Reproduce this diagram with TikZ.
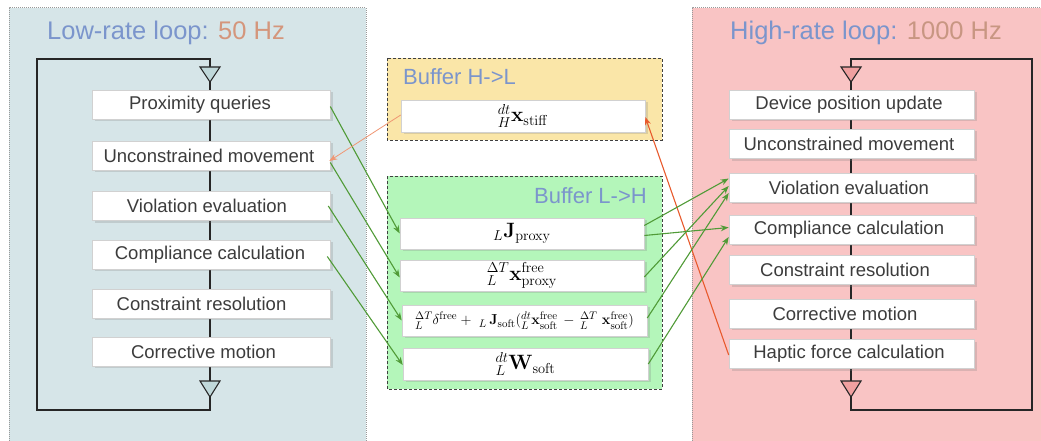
\documentclass[tikz,border=0pt]{standalone}
\usepackage{amsmath}
\usepackage[no-math]{fontspec}
\setmainfont{Liberation Sans}
\usetikzlibrary{shadows,arrows.meta}
\definecolor{lowbg}{RGB}{214,229,232}
\definecolor{highbg}{RGB}{249,196,196}
\definecolor{hlbg}{RGB}{250,230,168}
\definecolor{lhbg}{RGB}{180,246,186}
\definecolor{lowtri}{RGB}{192,216,218}
\definecolor{hightri}{RGB}{240,160,160}
\definecolor{titleblue}{RGB}{123,149,204}
\definecolor{titleorange}{RGB}{212,150,124}
\definecolor{hzbrown}{RGB}{200,150,130}
\definecolor{txtgray}{RGB}{60,60,60}
\definecolor{greenarrow}{RGB}{80,155,55}
\definecolor{orangearrow}{RGB}{232,90,45}
\definecolor{lightorange}{RGB}{240,150,115}
\tikzset{
  panel/.style={draw=gray!80, densely dotted, line width=1pt},
  buffer/.style={draw=black!75, densely dashed, line width=0.7pt},
  stepbox/.style={draw=black!18, fill=white, line width=0.6pt, inner sep=0pt,
    minimum height=29pt, text=txtgray, font=\fontsize{18.5}{22}\selectfont,
    drop shadow={opacity=0.25, shadow xshift=3pt, shadow yshift=-2pt}},
  mathbox/.style={draw=black!18, fill=white, line width=0.6pt, inner sep=0pt,
    minimum width=244pt, minimum height=31pt, font=\fontsize{21}{24}\selectfont,
    drop shadow={opacity=0.25, shadow xshift=3pt, shadow yshift=-2pt}},
  looptitle/.style={anchor=base west, inner sep=0pt, font=\fontsize{25.5}{30}\selectfont},
  buftitle/.style={inner sep=0pt, text=titleblue, font=\fontsize{22}{26}\selectfont},
  loopline/.style={draw=black!85, line width=1.1pt},
  garrow/.style={draw=greenarrow, line width=1.1pt, -{Stealth[length=8pt,width=6pt]}},
  oarrow/.style={draw=orangearrow, line width=1.1pt, -{Stealth[length=8pt,width=6pt]}},
  loarrow/.style={draw=lightorange, line width=0.8pt, -{Stealth[length=8pt,width=6pt]}},
}
\newcommand\padr[2]{#1\hspace*{#2pt}}
\begin{document}
\begin{tikzpicture}[x=1pt,y=-1pt]
\useasboundingbox (0,0) rectangle (1041,441);
\fill[white] (0,0) rectangle (1041,441);
% panels
\fill[lowbg] (9,8) rectangle (366,445);
\draw[panel] (9,445) -- (9,8) -- (366,8) -- (366,445);
\fill[highbg] (692,8) rectangle (1045,445);
\draw[panel] (692,445) -- (692,8) -- (1045,8);
\fill[hlbg] (387,58) rectangle (662,140);
\draw[buffer] (387,58) rectangle (662,140);
\fill[lhbg] (387,176) rectangle (662,389);
\draw[buffer] (387,176) rectangle (662,389);
% titles
\node[looptitle] (lowtitle) at (47,40) {\textcolor{titleblue}{Low-rate loop:} \textcolor{titleorange}{50 Hz}};
\node[looptitle] (hightitle) at (730,40) {\textcolor{titleblue}{High-rate loop:} \textcolor{hzbrown}{1000 Hz}};
\node[buftitle, anchor=base west] (hltitle) at (403,85) {Buffer H->L};
\node[buftitle, anchor=base east] (lhtitle) at (647,203) {Buffer L->H};
% left loop
\coordinate (lA) at (210,59);
\coordinate (lB) at (37,59);
\coordinate (lC) at (37,410);
\coordinate (lD) at (210,410);
\coordinate (ltt) at (210,67);
\coordinate (ltb) at (210,82);
\coordinate (lbt) at (210,381);
\coordinate (lbb) at (210,397);
\draw[loopline] (lbb) -- (lD) -- (lC) -- (lB) -- (lA) -- (ltt);
\draw[loopline] (ltb) -- (210,90);
\draw[loopline] (210,119) -- (210,381);
\draw[loopline, fill=lowtri, line join=miter] (200,67) -- (220,67) -- (ltb) -- cycle;
\draw[loopline, fill=lowtri, line join=miter] (200,381) -- (220,381) -- (lbb) -- cycle;
% right loop
\coordinate (rA) at (851,59);
\coordinate (rB) at (1032,59);
\coordinate (rC) at (1032,410);
\coordinate (rD) at (851,410);
\coordinate (rtt) at (851,67);
\coordinate (rtb) at (851,82);
\coordinate (rbt) at (851,381);
\coordinate (rbb) at (851,397);
\draw[loopline] (rbb) -- (rD) -- (rC) -- (rB) -- (rA) -- (rtt);
\draw[loopline] (rtb) -- (851,90);
\draw[loopline] (851,119) -- (rbt);
\draw[loopline, fill=hightri, line join=miter] (841,67) -- (861,67) -- (rtb) -- cycle;
\draw[loopline, fill=hightri, line join=miter] (841,381) -- (861,381) -- (rbb) -- cycle;
% left boxes
\node[stepbox, minimum width=238pt] (lq1) at (211,104.5) {\padr{Proximity queries}{22}};
\node[stepbox, minimum width=238pt] (lq2) at (211,155.5) {\padr{Unconstrained movement}{4}};
\node[stepbox, minimum width=238pt] (lq3) at (211,206) {\padr{Violation evaluation}{8}};
\node[stepbox, minimum width=238pt] (lq4) at (211,254.5) {\padr{Compliance calculation}{2}};
\node[stepbox, minimum width=238pt] (lq5) at (211,303.5) {\padr{Constraint resolution}{19}};
\node[stepbox, minimum width=238pt] (lq6) at (211,351.5) {\padr{Corrective motion}{15}};
% right boxes
\node[stepbox, minimum width=245pt] (r1) at (851.5,104.5) {\padr{Device position update}{5}};
\node[stepbox, minimum width=245pt] (r2) at (851.5,144) {\padr{Unconstrained movement}{5}};
\node[stepbox, minimum width=245pt] (r3) at (851.5,187.5) {\padr{Violation evaluation}{5}};
\node[stepbox, minimum width=245pt] (r4) at (851.5,229.5) {\padr{Compliance calculation}{5}};
\node[stepbox, minimum width=245pt] (r5) at (851.5,270) {\padr{Constraint resolution}{13}};
\node[stepbox, minimum width=245pt] (r6) at (851.5,313.5) {\padr{Corrective motion}{13}};
\node[stepbox, minimum width=245pt] (r7) at (851.5,354) {\padr{Haptic force calculation}{5}};
% buffer boxes
\node[mathbox, minimum height=32pt] (xs) at (523,116) {${}^{dt}_{H}\mathbf{x}_{\mathrm{stiff}}$};
\node[mathbox] (m1) at (522,233.5) {${}_{L}\mathbf{J}_{\mathrm{proxy}}$};
\node[mathbox] (m2) at (522,275.5) {${}^{\Delta T}_{L}\mathbf{x}^{\mathrm{free}}_{\mathrm{proxy}}$};
\node[mathbox, minimum width=245pt, font=\fontsize{15.5}{18}\selectfont] (m3) at (524.5,320.5) {${}^{\Delta T}_{L}\delta^{\mathrm{free}} +\ {}_{L}\,\mathbf{J}_{\mathrm{soft}}({}^{dt}_{L}\mathbf{x}^{\mathrm{free}}_{\mathrm{soft}}\,-\,{}^{\Delta T}_{L}\ \mathbf{x}^{\mathrm{free}}_{\mathrm{soft}})$};
\node[mathbox, minimum width=245pt, minimum height=32pt] (m4) at (525.5,364) {${}^{dt}_{L}\mathbf{W}_{\mathrm{soft}}$};
% connectors left -> buffer
\draw[garrow] ([yshift=-2pt]lq1.east) -- (m1.west);
\draw[garrow] ([yshift=-7pt]lq2.east) -- ([yshift=-2pt]m2.west);
\draw[garrow] ([xshift=-2pt]lq3.east) -- (m3.west);
\draw[garrow] ([xshift=-3pt,yshift=-2pt]lq4.east) -- ([yshift=-1pt]m4.west);
% H->L
\draw[loarrow] ([yshift=1pt]xs.west) -- ([xshift=-1pt,yshift=-5.5pt]lq2.east);
\draw[oarrow] ([yshift=-1pt]r7.west) -- ([yshift=-1pt]xs.east);
% buffer -> right
\draw[garrow] ([yshift=8pt]m1.east) -- ([yshift=9pt]r3.west);
\draw[garrow] ([yshift=-2pt]m1.east) -- ([yshift=2pt]r4.west);
\draw[garrow] ([yshift=-1.5pt]m2.east) -- ([yshift=1.5pt]r3.west);
\draw[garrow] ([yshift=2.5pt]m3.east) -- ([yshift=-5.5pt]r3.west);
\draw[garrow] (m4.east) -- ([yshift=-7.5pt]r4.west);
\end{tikzpicture}
\end{document}
